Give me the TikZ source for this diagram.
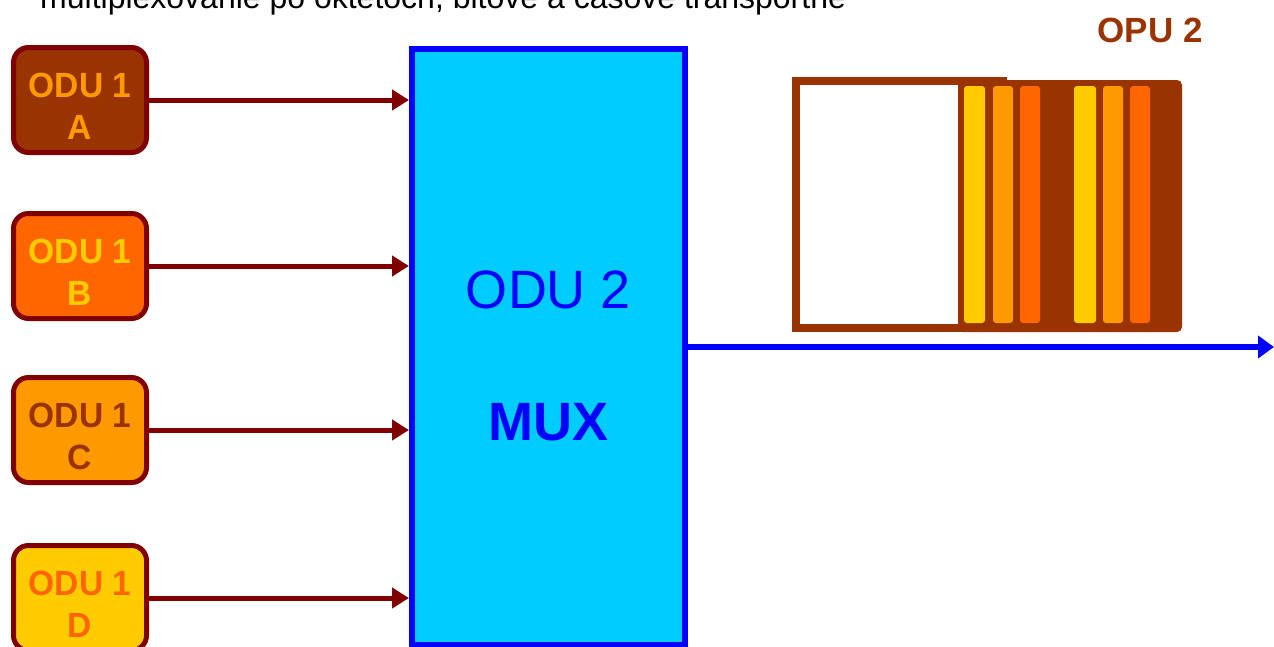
\documentclass[tikz,border=0pt]{standalone}
\usepackage{fontspec}
\setmainfont{Liberation Sans}
\usetikzlibrary{arrows.meta}
\definecolor{maroonc}{HTML}{800000}
\definecolor{brownc}{HTML}{993300}
\definecolor{orangec}{HTML}{FF9900}
\definecolor{redorc}{HTML}{FF6600}
\definecolor{yellowc}{HTML}{FFCC00}
\definecolor{cyanc}{HTML}{00CCFF}
\definecolor{bluec}{HTML}{0000FF}
\begin{document}
\begin{tikzpicture}[x=1pt,y=-1pt,
  odu/.style={draw=maroonc, line width=5pt, rounded corners=15pt, minimum width=133pt, minimum height=105pt, inner sep=0pt},
  odutxt/.style={font=\fontsize{35}{40}\selectfont\bfseries, inner sep=0pt, xscale=0.96},
  feed/.style={draw=maroonc, line width=5pt, -{Triangle[length=17pt,width=20pt]}},
  stripe/.style={rounded corners=3pt, inner sep=0pt, minimum height=237pt}]
\useasboundingbox (0,0) rectangle (1274,646);
\clip (0,0) rectangle (1274,646);
\fill[white] (0,0) rectangle (1274,646);

% title (cut at top, as in the reference)
\node[anchor=base west, inner sep=0pt, font=\fontsize{32}{38}\selectfont] (title) at (40,8)
  {multiplexovanie po oktetoch, bitové a časové transportné};

% ODU 1 boxes
\node[odu, fill=brownc]  (oduA) at (80,100) {};
\node[odu, fill=redorc]  (oduB) at (80,266) {};
\node[odu, fill=orangec] (oduC) at (80,430) {};
\node[odu, fill=yellowc] (oduD) at (80,598) {};

\node[odutxt, text=orangec] (tA1) at ([yshift=15pt]oduA.center) {ODU 1};
\node[odutxt, text=orangec] (tA2) at ([yshift=-27pt]oduA.center) {A};
\node[odutxt, text=yellowc] (tB1) at ([yshift=15pt]oduB.center) {ODU 1};
\node[odutxt, text=yellowc] (tB2) at ([yshift=-27pt]oduB.center) {B};
\node[odutxt, text=brownc]  (tC1) at ([yshift=15pt]oduC.center) {ODU 1};
\node[odutxt, text=brownc]  (tC2) at ([yshift=-27pt]oduC.center) {C};
\node[odutxt, text=redorc]  (tD1) at ([yshift=15pt]oduD.center) {ODU 1};
\node[odutxt, text=redorc]  (tD2) at ([yshift=-27pt]oduD.center) {D};

% MUX
\node[draw=bluec, fill=cyanc, line width=6pt, minimum width=273pt, minimum height=596pt, inner sep=0pt] (mux) at (548.5,347) {};
\node[text=bluec, inner sep=0pt, font=\fontsize{54}{60}\selectfont] (muxt1) at (548.5,290) {ODU 2};
\node[text=bluec, inner sep=0pt, font=\fontsize{54}{60}\selectfont\bfseries] (muxt2) at (548.5,422) {MUX};

\draw[feed] (oduA.east) -- (oduA.east -| mux.west);
\draw[feed] (oduB.east) -- (oduB.east -| mux.west);
\draw[feed] (oduC.east) -- (oduC.east -| mux.west);
\draw[feed] (oduD.east) -- (oduD.east -| mux.west);

% output
\coordinate (out) at (1274,347);
\draw[draw=bluec, line width=6pt, -{Triangle[length=16pt,width=22pt]}] (mux.east) -- (out);

% OPU 2 frame
\node[text=brownc, inner sep=0pt, font=\fontsize{35}{40}\selectfont\bfseries] (opul) at (1150,30) {OPU 2};
\node[draw=brownc, fill=white, line width=8pt, minimum width=207pt, minimum height=247pt, inner sep=0pt] (opuframe) at (899.5,204.5) {};
\node[fill=brownc, rounded corners=5pt, minimum width=224pt, minimum height=252pt, inner sep=0pt] (opublock) at (1070,206) {};
\node[stripe, fill=yellowc, minimum width=21pt] (s1) at (974.5,204.5) {};
\node[stripe, fill=orangec, minimum width=20pt] (s2) at (1003,204.5) {};
\node[stripe, fill=redorc,  minimum width=20pt] (s3) at (1030,204.5) {};
\node[stripe, fill=yellowc, minimum width=22pt] (s5) at (1085,204.5) {};
\node[stripe, fill=orangec, minimum width=20pt] (s6) at (1113,204.5) {};
\node[stripe, fill=redorc,  minimum width=20pt] (s7) at (1140,204.5) {};
\end{tikzpicture}
\end{document}
